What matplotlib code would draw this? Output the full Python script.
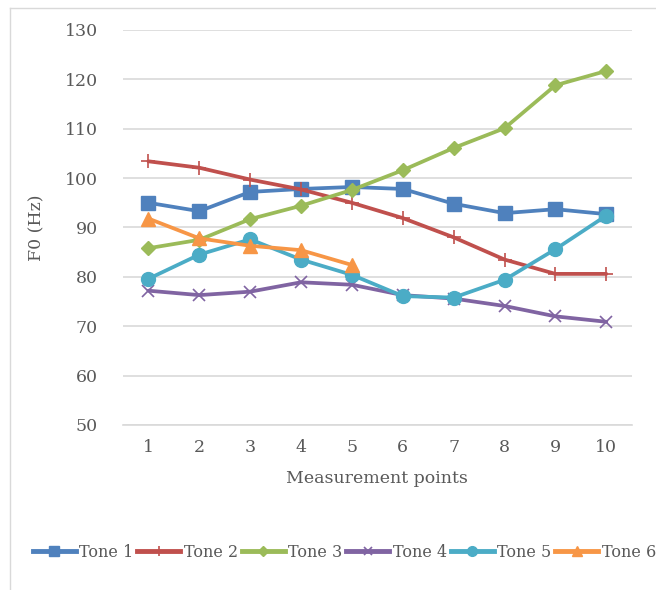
import matplotlib
matplotlib.use("Agg")
import matplotlib.pyplot as plt
from matplotlib.lines import Line2D

# ---- данные ----
points = [1, 2, 3, 4, 5, 6, 7, 8, 9, 10]
tone1 = [95.0, 93.3, 97.2, 97.8, 98.2, 97.8, 94.8, 92.9, 93.7, 92.7]
tone2 = [103.4, 102.1, 99.7, 97.7, 95.0, 91.9, 88.0, 83.5, 80.6, 80.6]
tone3 = [85.8, 87.5, 91.7, 94.4, 97.6, 101.6, 106.1, 110.1, 118.8, 121.7]
tone4 = [77.2, 76.3, 77.0, 78.9, 78.4, 76.3, 75.6, 74.1, 72.0, 70.9]
tone5 = [79.6, 84.5, 87.6, 83.5, 80.4, 76.1, 75.8, 79.4, 85.6, 92.4]
tone6 = [91.8, 87.8, 86.3, 85.4, 82.4]
labels = ["Tone 1", "Tone 2", "Tone 3", "Tone 4", "Tone 5", "Tone 6"]
yticks = [50, 60, 70, 80, 90, 100, 110, 120, 130]

# ---- стиль ----
colors = ["#4F81BD", "#C0504D", "#9BBB59", "#8064A2", "#4BACC6", "#F79646"]
markers = ["s", "+", "D", "x", "o", "^"]
msizes = [10, 10, 7.5, 9, 10, 10]
mews = [1, 1.2, 1, 1.2, 1, 1]
TEXT = "#595959"
GRID = "#D9D9D9"
plt.rcParams["font.family"] = ["DejaVu Serif"]

fig = plt.figure(figsize=(6.56, 5.90), dpi=100)
ax = fig.add_axes([0.1875, 0.2797, 0.7755, 0.6695])

series = [tone1, tone2, tone3, tone4, tone5, tone6]
for ys, lab, c, m, ms, mew in zip(series, labels, colors, markers, msizes, mews):
    ax.plot(points[:len(ys)], ys, color=c, lw=2.7, marker=m, ms=ms,
            mew=mew, mec=c, mfc=c, label=lab, solid_capstyle="round", zorder=3)

ax.set_xlim(0.5, 10.5)
ax.set_ylim(50, 130)
ax.set_yticks(yticks)
ax.set_xticks(points)
ax.grid(axis="y", color=GRID, lw=1.2)
ax.axhline(50, color=GRID, lw=1.2, clip_on=False, zorder=1)
ax.set_axisbelow(True)
for s in ax.spines.values():
    s.set_visible(False)
ax.tick_params(length=0, labelsize=12.5, colors=TEXT, pad=18)
ax.tick_params(axis="x", pad=10)
ax.set_xlabel("Measurement points", fontsize=12.5, color=TEXT, labelpad=10)
ax.set_ylabel("F0 (Hz)", fontsize=12.5, color=TEXT, labelpad=14)

# легенда в одну строку, обрезается справа как в оригинале
handles = [Line2D([], [], color=c, lw=3.5, marker=m, ms=ms * 0.7, mew=mew, mec=c, mfc=c)
           for c, m, ms, mew in zip(colors, markers, msizes, mews)]
fig.legend(handles, labels, loc="center left", bbox_to_anchor=(0.05, 0.064),
           ncol=6, frameon=False, fontsize=11.5, labelcolor=TEXT,
           handlelength=2.7, handletextpad=0.2, columnspacing=0.25,
           borderaxespad=0, borderpad=0)

# рамка области диаграммы
fig.add_artist(Line2D([0.0155, 0.0155], [0, 0.986], color=GRID, lw=1))
fig.add_artist(Line2D([0.0155, 1.0], [0.986, 0.986], color=GRID, lw=1))

fig.savefig("out.png", dpi=100)
